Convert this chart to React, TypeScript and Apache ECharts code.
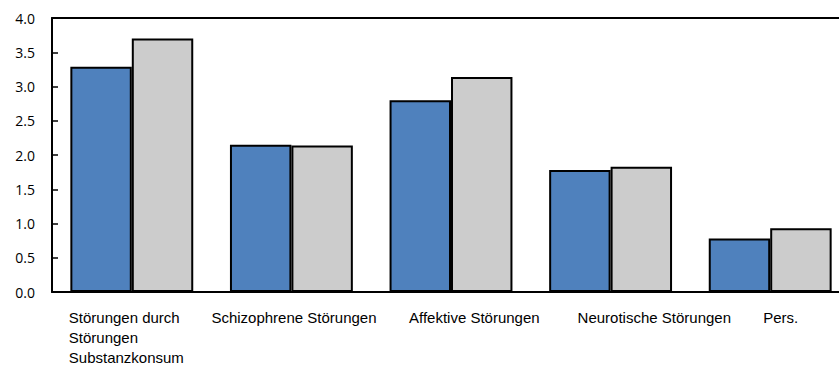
import React, { useEffect, useRef } from "react";
import * as echarts from "echarts";

const categories = [
  "Störungen durch\nStörungen\nSubstanzkonsum",
  "Schizophrene Störungen",
  "Affektive Störungen",
  "Neurotische Störungen",
  "Pers.",
];
const seriesBlue = [3.29, 2.15, 2.8, 1.78, 0.78];
const seriesGray = [3.7, 2.14, 3.14, 1.83, 0.93];
const labelShift = [-63, -80, -42, -33, -7];
const yTicks = { min: 0, max: 4, interval: 0.5 };

export default function App() {
  const ref = useRef<HTMLDivElement>(null);
  useEffect(() => {
    document.body.style.margin = "0";
    document.body.style.overflow = "hidden";
    const chart = echarts.init(ref.current!, null, { renderer: "svg" });
    const labelStyle = {
      align: "left",
      fontFamily: "Liberation Sans",
      fontSize: 15,
      lineHeight: 20,
      color: "#000",
    };
    const option = {
      animation: false,
      backgroundColor: "#ffffff",
      grid: { left: 52, top: 18, right: 0, bottom: 74, containLabel: false },
      xAxis: [
        {
          type: "category",
          data: categories.map((c, i) => ({
            value: c,
            textStyle: { ...labelStyle, padding: [0, 0, 0, labelShift[i]] },
          })),
          position: "bottom",
          axisLine: { show: true, lineStyle: { color: "#000", width: 2 } },
          axisTick: { show: false },
          axisLabel: {
            interval: 0,
            margin: 15,
            ...labelStyle,
          },
        },
        {
          type: "category",
          data: categories,
          position: "top",
          axisLine: { show: true, lineStyle: { color: "#000", width: 2 } },
          axisTick: { show: false },
          axisLabel: { show: false },
        },
      ],
      yAxis: {
        type: "value",
        min: yTicks.min,
        max: yTicks.max,
        interval: yTicks.interval,
        axisLine: { show: true, lineStyle: { color: "#000", width: 2 } },
        axisTick: { show: true, inside: true, length: 6, lineStyle: { color: "#000", width: 1.5 } },
        splitLine: { show: false },
        axisLabel: {
          margin: 17,
          formatter: (v: number) => v.toFixed(1),
          fontFamily: "Open Sans",
          fontSize: 14,
          color: "#000",
        },
      },
      series: [
        {
          type: "bar",
          data: seriesBlue,
          barGap: "0%",
          barCategoryGap: "23%",
          itemStyle: { color: "#4F81BD", borderColor: "#000", borderWidth: 2 },
        },
        {
          type: "bar",
          data: seriesGray,
          barGap: "0%",
          barCategoryGap: "23%",
          itemStyle: { color: "#CCCCCC", borderColor: "#000", borderWidth: 2 },
        },
      ],
    };
    chart.setOption(option as any);
    return () => chart.dispose();
  }, []);
  return (
    <div style={{ width: 839, height: 367, overflow: "hidden" }}>
      <div ref={ref} style={{ width: 850, height: 367 }} />
    </div>
  );
}
